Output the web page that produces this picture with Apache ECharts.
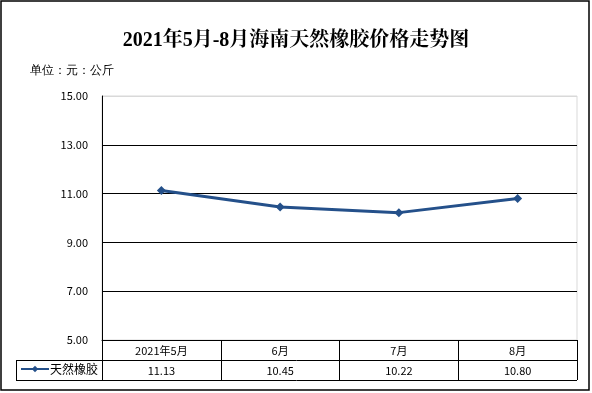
<!DOCTYPE html>
<html><head><meta charset="utf-8">
<script src="https://cdn.jsdelivr.net/npm/echarts@6/dist/echarts.min.js"></script>
<style>html,body{margin:0;padding:0;background:#fff}#c{width:592px;height:393px}</style>
</head><body><div id="c"></div>
<script>
const categories = ['2021年5月', '6月', '7月', '8月'];
const values = [11.13, 10.45, 10.22, 10.80];
const seriesName = '天然橡胶';
const yTicks = [5, 7, 9, 11, 13, 15];

const chart = echarts.init(document.getElementById('c'));
const gridLeft = 102, gridRight = 15, gridTop = 96, gridBottom = 53;
const W = 592, H = 393;
const plotBottom = H - gridBottom;
const rowH = 20;
const tableLeft = 16;
const font = '"Microsoft YaHei","Noto Sans CJK SC",sans-serif';

chart.setOption({
  animation: false,
  title: {
    text: '2021年5月-8月海南天然橡胶价格走势图',
    left: 'center', top: 26,
    textStyle: {fontSize: 20, fontWeight: 'bold', color: '#000',
      fontFamily: '"Liberation Serif","Noto Serif CJK SC","Noto Sans CJK SC",serif'}
  },
  legend: {
    show: true, left: 20, top: plotBottom + rowH + 3, padding: 0, itemWidth: 28, itemHeight: 8, itemGap: 2,
    textStyle: {fontSize: 12, color: '#000', fontFamily: font, padding: [0, 0, 0, -4]},
    data: [seriesName]
  },
  grid: {left: gridLeft, right: gridRight, top: gridTop, bottom: gridBottom,
    show: true, borderColor: '#d9d9d9', borderWidth: 1},
  xAxis: [{
    type: 'category', data: categories, boundaryGap: true,
    axisLine: {show: true, lineStyle: {color: '#000', width: 1}},
    axisTick: {show: true, length: rowH * 2, lineStyle: {color: '#000'}},
    axisLabel: {margin: 5, fontSize: 11, color: '#000', fontFamily: font},
    splitLine: {show: false}
  }, {
    type: 'category', data: values.map(v => v.toFixed(2)), position: 'bottom', offset: rowH,
    boundaryGap: true,
    axisLine: {show: false}, axisTick: {show: false},
    axisLabel: {margin: 5, fontSize: 11, color: '#000', fontFamily: font}
  }],
  yAxis: {
    type: 'value', min: yTicks[0], max: yTicks[yTicks.length - 1], interval: 2,
    axisLine: {show: true, lineStyle: {color: '#000'}},
    axisTick: {show: false},
    axisLabel: {margin: 14, fontSize: 11, color: '#000', fontFamily: font,
      formatter: v => v.toFixed(2)},
    splitLine: {show: true, lineStyle: {color: ['#000', '#000', '#000', '#000', '#000', '#d9d9d9'], width: 1}}
  },
  series: [{
    name: seriesName, type: 'line', data: values, xAxisIndex: 0,
    symbol: 'diamond', symbolSize: 9,
    lineStyle: {color: '#24508A', width: 3},
    itemStyle: {color: '#24508A'}
  }],
  graphic: [
    {type: 'line', shape: {x1: tableLeft, y1: plotBottom + rowH + 0.5, x2: W - gridRight, y2: plotBottom + rowH + 0.5}, style: {stroke: '#000', lineWidth: 1}},
    {type: 'line', shape: {x1: tableLeft, y1: plotBottom + rowH * 2 + 0.5, x2: W - gridRight, y2: plotBottom + rowH * 2 + 0.5}, style: {stroke: '#000', lineWidth: 1}},
    {type: 'line', shape: {x1: tableLeft + 0.5, y1: plotBottom + rowH, x2: tableLeft + 0.5, y2: plotBottom + rowH * 2}, style: {stroke: '#000', lineWidth: 1}},
    {type: 'text', left: 30, top: 65, style: {text: '单位：元：公斤', fontSize: 12, fill: '#000', font: '12px ' + font}},
    {type: 'rect', shape: {x: 1, y: 1, width: 588, height: 389}, style: {fill: 'none', stroke: '#000', lineWidth: 1.5}}
  ]
});
</script></body></html>
